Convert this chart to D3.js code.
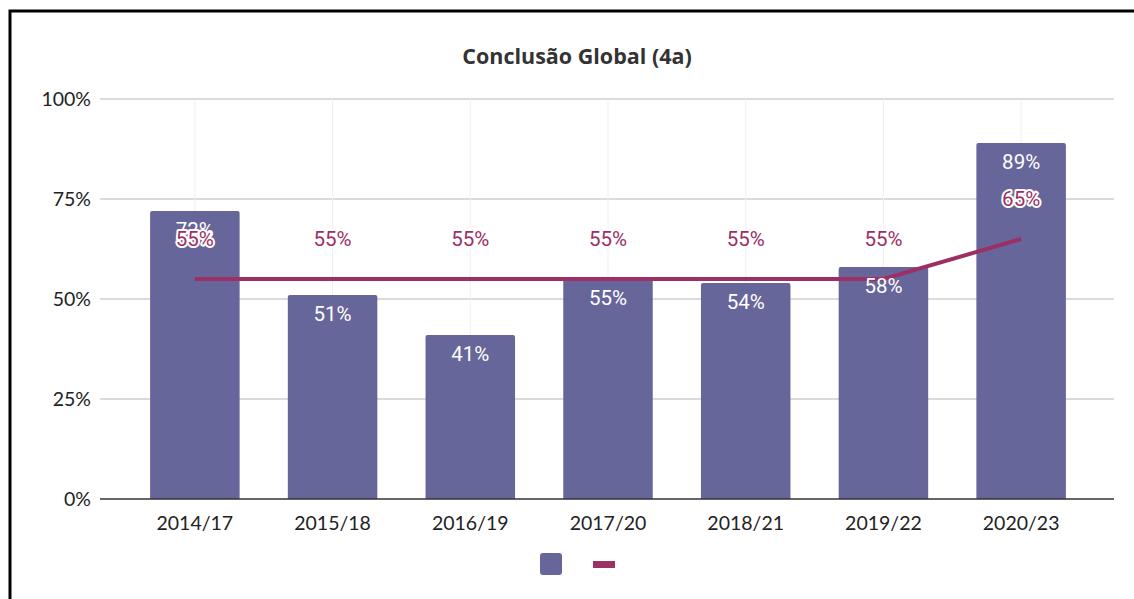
<!doctype html>
<html lang="pt">
<head>
<meta charset="utf-8">
<title>Conclusão Global (4a)</title>
<script src="https://d3js.org/d3.v7.min.js"></script>
<style>
  body { margin: 0; background: #fff; }
  #chart { width: 1134px; height: 599px; }
</style>
</head>
<body>
<div id="chart"></div>
<script>
// data
const categories = ["2014/17", "2015/18", "2016/19", "2017/20", "2018/21", "2019/22", "2020/23"];
const conclusao = [72, 51, 41, 55, 54, 58, 89];   // bars
const meta = [55, 55, 55, 55, 55, 55, 65];        // line
const yTicks = [0, 25, 50, 75, 100];

const width = 1134, height = 599;
const barColor = "#67669a", lineColor = "#9c2f64";

const svg = d3.select("#chart").append("svg")
    .attr("width", width)
    .attr("height", height);

// frame (left + top border, as in the screenshot)
svg.append("path")
    .attr("d", `M10,${height} V11 H${width}`)
    .attr("fill", "none")
    .attr("stroke", "#000")
    .attr("stroke-width", 3);

svg.append("text")
    .attr("x", 577)
    .attr("y", 64)
    .attr("text-anchor", "middle")
    .attr("font-family", "Open Sans, sans-serif")
    .attr("font-weight", 700)
    .attr("font-size", 21.5)
    .attr("fill", "#333")
    .text("Conclusão Global (4a)");

const x = d3.scaleBand(categories, [126, 1090]).paddingInner(0.35).paddingOuter(0.175);
const y = d3.scaleLinear([0, 100], [499, 99]);
const cx = d => x(d) + x.bandwidth() / 2;

// horizontal gridlines + y labels
const yAxis = svg.append("g");
yAxis.selectAll("line")
  .data(yTicks.filter(t => t > 0))
  .join("line")
    .attr("x1", 100).attr("x2", 1114)
    .attr("y1", d => y(d)).attr("y2", d => y(d))
    .attr("stroke", "#cfcfcf")
    .attr("stroke-width", 1.5);
yAxis.selectAll("text")
  .data(yTicks)
  .join("text")
    .attr("x", 91)
    .attr("y", d => y(d))
    .attr("dy", "0.35em")
    .attr("text-anchor", "end")
    .attr("font-family", "Lato, sans-serif")
    .attr("font-size", 19.5)
    .attr("fill", "#222")
    .text(d => d + "%");

// faint vertical category gridlines
svg.append("g").selectAll("line")
  .data(categories)
  .join("line")
    .attr("x1", cx).attr("x2", cx)
    .attr("y1", y(100)).attr("y2", y(0))
    .attr("stroke", "#f0f0f0");

// bars
svg.append("g").selectAll("path")
  .data(categories)
  .join("path")
    .attr("fill", barColor)
    .attr("d", (d, i) => {
      const x0 = x(d), w = x.bandwidth(), top = y(conclusao[i]), b = y(0), r = 2;
      return `M${x0},${b} V${top + r} Q${x0},${top} ${x0 + r},${top} H${x0 + w - r} Q${x0 + w},${top} ${x0 + w},${top + r} V${b} Z`;
    });

// baseline
svg.append("line")
    .attr("x1", 100).attr("x2", 1114)
    .attr("y1", y(0)).attr("y2", y(0))
    .attr("stroke", "#333")
    .attr("stroke-width", 1.5);

// x labels
svg.append("g").selectAll("text")
  .data(categories)
  .join("text")
    .attr("x", cx)
    .attr("y", 530)
    .attr("text-anchor", "middle")
    .attr("font-family", "Lato, sans-serif")
    .attr("font-size", 19.5)
    .attr("fill", "#222")
    .text(d => d);

// line
const line = d3.line()
    .x((d, i) => cx(categories[i]))
    .y(d => y(d));
svg.append("path")
    .datum(meta)
    .attr("d", line)
    .attr("fill", "none")
    .attr("stroke", lineColor)
    .attr("stroke-width", 4);

// bar value labels
svg.append("g").selectAll("text")
  .data(categories)
  .join("text")
    .attr("x", cx)
    .attr("y", (d, i) => y(conclusao[i]) + 19)
    .attr("dy", "0.35em")
    .attr("text-anchor", "middle")
    .attr("font-family", "Roboto, sans-serif")
    .attr("font-size", 20.5)
    .attr("fill", "#fff")
    .text((d, i) => conclusao[i] + "%");

// line value labels with white halo
svg.append("g").selectAll("text")
  .data(categories)
  .join("text")
    .attr("x", cx)
    .attr("y", (d, i) => y(meta[i]) - 40)
    .attr("dy", "0.35em")
    .attr("text-anchor", "middle")
    .attr("font-family", "Roboto, sans-serif")
    .attr("font-size", 20.5)
    .attr("fill", lineColor)
    .attr("stroke", "#fff")
    .attr("stroke-width", 4)
    .attr("stroke-linejoin", "round")
    .attr("paint-order", "stroke")
    .text((d, i) => meta[i] + "%");

// legend (no labels in the original)
const legend = svg.append("g");
legend.append("rect")
    .attr("x", 540).attr("y", 553)
    .attr("width", 22).attr("height", 22)
    .attr("rx", 3)
    .attr("fill", barColor);
legend.append("rect")
    .attr("x", 593).attr("y", 561)
    .attr("width", 22).attr("height", 7)
    .attr("fill", lineColor);
</script>
</body>
</html>
